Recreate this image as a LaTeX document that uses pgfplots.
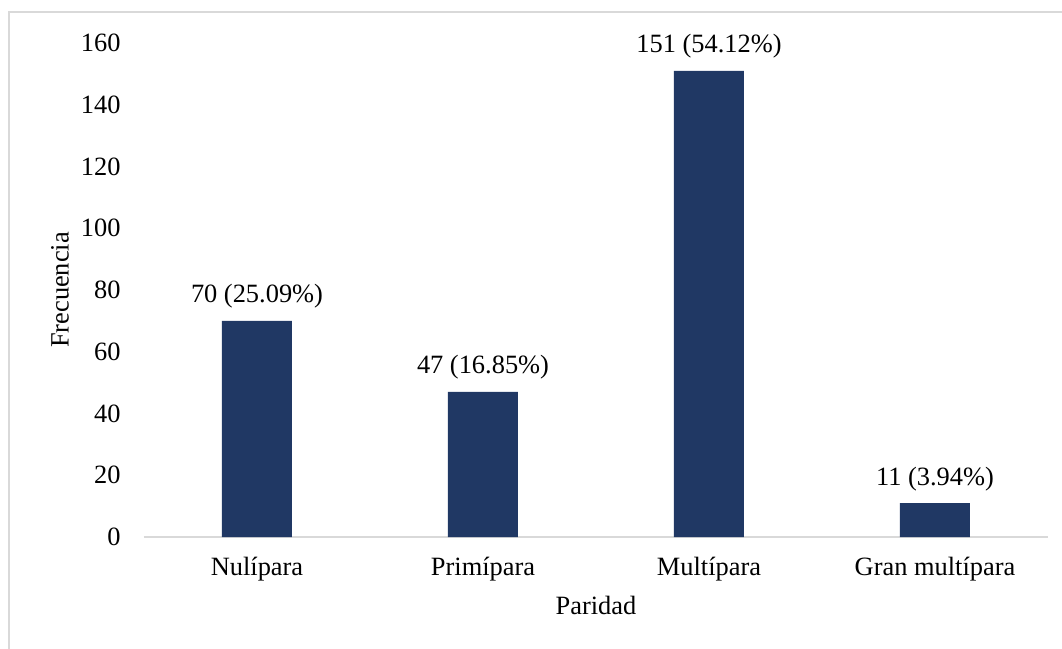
\documentclass[border=0pt]{standalone}
\usepackage{pgfplots}
\pgfplotsset{compat=1.18}
\usepackage{fontspec}
\setmainfont{Liberation Serif}
\definecolor{barblue}{HTML}{203864}
\definecolor{framegray}{HTML}{D9D9D9}
\begin{document}
\fontsize{13.2pt}{15.8pt}\selectfont
\begin{tikzpicture}
\useasboundingbox (0pt,0pt) rectangle (531pt,324.5pt);
% chart frame (top and left edges)
\draw[framegray, line width=0.75pt] (4.5pt,0pt) -- (4.5pt,318.5pt) -- (531pt,318.5pt);
\begin{axis}[
  at={(72pt,56pt)}, anchor=south west,
  scale only axis,
  width=452pt, height=247pt,
  xmin=-0.5, xmax=3.5,
  ymin=0, ymax=160,
  ytick={0,20,...,160},
  xtick=data,
  xticklabels={Nulípara,Primípara,Multípara,Gran multípara},
  axis y line=none,
  axis x line*=bottom,
  axis line style={framegray, line width=0.9pt, -},
  major tick length=0pt,
  /pgf/number format/assume math mode=true,
  tick label style={font=\fontsize{13.2pt}{15.8pt}\selectfont, text=black},
  xticklabel style={anchor=base, inner sep=0pt, yshift=-19.5pt},
  clip=false,
  ybar, bar width=35pt,
  point meta=explicit symbolic,
  nodes near coords,
  nodes near coords style={anchor=base, inner sep=0pt, yshift=9pt, text=black,
    font=\fontsize{13.2pt}{15.8pt}\selectfont},
]
\addplot[fill=barblue, draw=none] coordinates {
  (0,70)  [70 (25.09\%)]
  (1,47)  [47 (16.85\%)]
  (2,151) [151 (54.12\%)]
  (3,11)  [11 (3.94\%)]
};
% y tick labels (y axis line itself is hidden)
\pgfplotsinvokeforeach{0,20,...,160}{
  \node[anchor=east, inner sep=0pt, xshift=-11.5pt] at (axis cs:-0.5,#1) {#1};
}
\path (rel axis cs:0,0.5) ++(-42pt,0pt) node[rotate=90, anchor=center] {Frecuencia};
\path (rel axis cs:0.5,0) ++(0pt,-34pt) node[anchor=center] {Paridad};
\end{axis}
\end{tikzpicture}
\end{document}
